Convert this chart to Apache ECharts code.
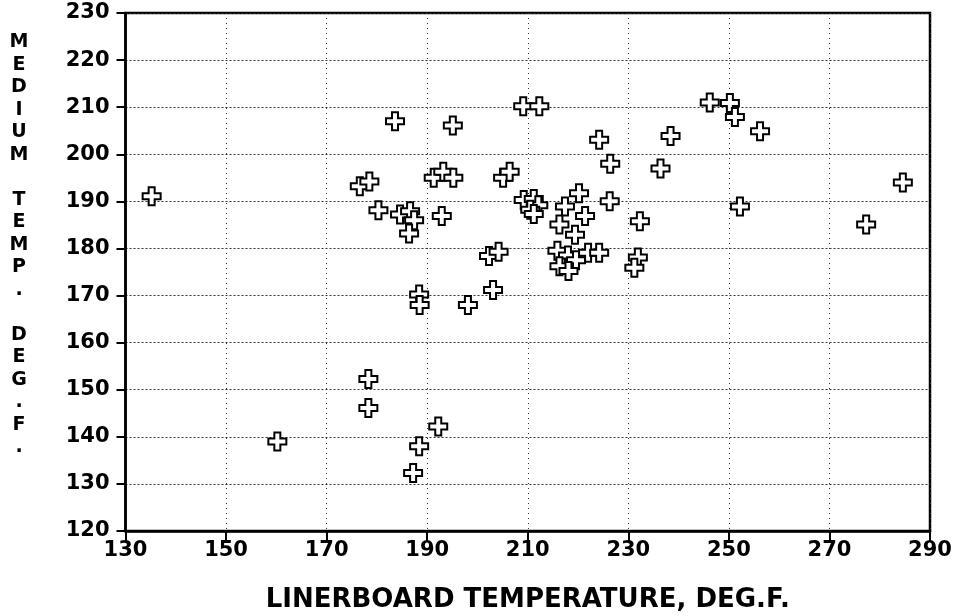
<!DOCTYPE html>
<html>
<head>
<meta charset="utf-8">
<script src="https://cdn.jsdelivr.net/npm/echarts@6/dist/echarts.min.js"></script>
<style>
html,body{margin:0;padding:0;background:#fff;}
#chart{width:960px;height:616px;}
</style>
</head>
<body>
<div id="chart"></div>
<script>
// Liner board temperature (deg F)
var linerTemp = [
  135.2, 160.2, 176.6, 178.5, 178.3, 178.3, 180.3, 183.6, 184.6, 186.6,
  187.4, 186.4, 188.4, 188.5, 188.4, 187.2, 192.2, 191.3, 193.2, 195.2,
  195.1, 192.9, 198.1, 202.3, 204.2, 203.1, 205.1, 206.4, 209.1, 212.3,
  209.2, 211.2, 212.1, 210.5, 211.2, 217.4, 220.2, 221.4, 216.3, 219.4,
  226.3, 215.9, 218.0, 219.6, 216.3, 218.1, 222.0, 224.2, 224.2, 226.4,
  231.9, 231.2, 232.3, 236.4, 238.4, 246.2, 250.2, 251.2, 256.2, 252.2,
  277.3, 284.6
];
// Medium temperature (deg F)
var mediumTemp = [
  191.1, 139.0, 193.2, 194.2, 152.3, 146.1, 188.1, 207.0, 187.2, 187.9,
  186.0, 183.2, 170.2, 168.0, 138.0, 132.3, 142.2, 195.0, 196.3, 195.0,
  206.1, 186.9, 168.0, 178.4, 179.3, 171.2, 195.0, 196.3, 210.2, 210.2,
  190.3, 190.5, 189.2, 188.2, 187.3, 188.9, 191.7, 186.9, 185.1, 182.9,
  190.0, 179.5, 178.5, 177.5, 176.2, 175.2, 179.1, 179.1, 203.1, 198.0,
  178.1, 175.9, 185.8, 197.0, 203.9, 211.0, 210.9, 207.9, 204.9, 188.9,
  185.1, 194.0
];
var xTicks = [130, 150, 170, 190, 210, 230, 250, 270, 290];
var yTicks = [120, 130, 140, 150, 160, 170, 180, 190, 200, 210, 220, 230];
var xTitle = 'LINERBOARD TEMPERATURE, DEG.F.';
var yTitleLetters = ['M','E','D','I','U','M','','T','E','M','P','.','','D','E','G','.','F','.'];

var points = linerTemp.map(function (x, i) { return [x, mediumTemp[i]]; });

var FONT = '"DejaVu Sans", "Liberation Sans", sans-serif';
var chart = echarts.init(document.getElementById('chart'), null, {renderer: 'canvas'});
chart.setOption({
  backgroundColor: '#fff',
  animation: false,
  grid: {
    left: 125.5, right: 30, top: 13, bottom: 85,
    containLabel: false, outerBoundsMode: 'none',
    show: true, borderColor: '#000', borderWidth: 2.5, backgroundColor: 'transparent'
  },
  xAxis: {
    type: 'value',
    min: xTicks[0], max: xTicks[xTicks.length - 1], interval: 20,
    name: xTitle, nameLocation: 'middle', nameGap: 56,
    nameTextStyle: {fontFamily: FONT, fontWeight: 'bold', fontSize: 26, color: '#000'},
    axisLine: {show: true, lineStyle: {color: '#000', width: 2.5}},
    axisTick: {show: true, inside: false, length: 10, lineStyle: {color: '#000', width: 2}},
    axisLabel: {fontFamily: FONT, fontWeight: 'bold', fontSize: 21, color: '#000', margin: 9},
    splitLine: {show: true, lineStyle: {type: [1, 4], color: '#333', width: 1}}
  },
  yAxis: {
    type: 'value',
    min: yTicks[0], max: yTicks[yTicks.length - 1], interval: 10,
    axisLine: {show: true, lineStyle: {color: '#000', width: 2.5}},
    axisTick: {show: true, inside: false, length: 9, lineStyle: {color: '#000', width: 2}},
    axisLabel: {fontFamily: FONT, fontWeight: 'bold', fontSize: 21, color: '#000', margin: 16},
    splitLine: {show: true, lineStyle: {type: [2, 2], color: '#333', width: 1}}
  },
  graphic: [{
    type: 'text',
    x: 19, y: 31,
    style: {
      text: yTitleLetters.join('\n'),
      fontFamily: FONT, fontWeight: 'bold', fontSize: 19,
      lineHeight: 22.5, align: 'center', verticalAlign: 'top', fill: '#000'
    }
  }],
  series: [{
    type: 'scatter',
    data: points,
    symbol: 'path://M2,0 L4,0 L4,2 L6,2 L6,4 L4,4 L4,6 L2,6 L2,4 L0,4 L0,2 L2,2 Z',
    symbolSize: 18,
    itemStyle: {color: '#fff', borderColor: '#000', borderWidth: 2, opacity: 1}
  }]
});
</script>
</body>
</html>
